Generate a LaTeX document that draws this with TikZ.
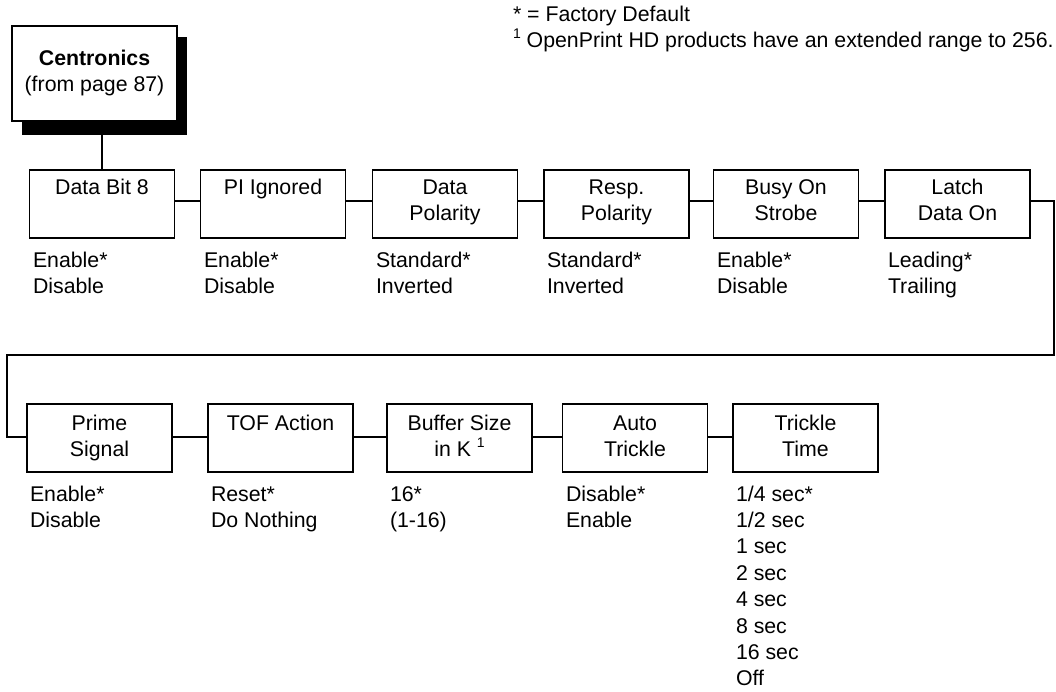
\documentclass[tikz,border=0pt]{standalone}
\usepackage{fontspec}
\setmainfont{Liberation Sans}
\newcommand\ctrlines[1]{\vtop{\baselineskip=26.6pt\lineskip=0pt\lineskiplimit=-20pt\halign{\hfil##\hfil\cr#1\crcr}}}
\newcommand\leftlines[1]{\vtop{\baselineskip=26.4pt\lineskip=0pt\lineskiplimit=-20pt\halign{##\hfil\cr#1\crcr}}}
\newcommand\supone{\raisebox{0.42em}{\fontsize{14}{14}\selectfont 1}}
\begin{document}
\begin{tikzpicture}[x=1pt,y=-1pt,
  every node/.style={font=\fontsize{21.3}{26.6}\selectfont, inner sep=0pt, outer sep=0pt},
  menubox/.style={draw=black, line width=1.6pt, fill=white, rectangle, minimum width=145pt, minimum height=68pt},
  conn/.style={draw=black, line width=1.6pt},
  ttl/.style={anchor=base},
  opts/.style={anchor=base west}]
\useasboundingbox (0,0) rectangle (1056,691);

% header notes
\node[opts] (note) at (513,21) {\leftlines{* = Factory Default\cr \supone\ OpenPrint HD products have an extended range to 256.}};

% Centronics box with shadow
\node[fill=black, rectangle, minimum width=165pt, minimum height=98pt] (shadow) at (104.5,86) {};
\node[draw=black, line width=1.6pt, fill=white, rectangle, minimum width=165pt, minimum height=95pt] (cent) at (94.5,73.5) {};
\node[ttl] (centtxt) at (94.5,65) {\ctrlines{\textbf{Centronics}\cr (from page 87)}};

% row 1
\node[menubox] (b1) at (102,204) {};
\node[menubox] (b2) at (273,204) {};
\node[menubox] (b3) at (445,204) {};
\node[menubox] (b4) at (616.5,204) {};
\node[menubox] (b5) at (786,204) {};
\node[menubox] (b6) at (957.5,204) {};

\node[ttl] (t1) at (b1 |- 0,194) {\ctrlines{Data Bit 8}};
\node[ttl] (t2) at (b2 |- 0,194) {\ctrlines{PI Ignored}};
\node[ttl] (t3) at (b3 |- 0,194) {\ctrlines{Data\cr Polarity}};
\node[ttl] (t4) at (b4 |- 0,194) {\ctrlines{Resp.\cr Polarity}};
\node[ttl] (t5) at (b5 |- 0,194) {\ctrlines{Busy On\cr Strobe}};
\node[ttl] (t6) at (b6 |- 0,194) {\ctrlines{Latch\cr Data On}};

\node[opts] (o1) at (33,267) {\leftlines{Enable*\cr Disable}};
\node[opts] (o2) at (204,267) {\leftlines{Enable*\cr Disable}};
\node[opts] (o3) at (376,267) {\leftlines{Standard*\cr Inverted}};
\node[opts] (o4) at (547,267) {\leftlines{Standard*\cr Inverted}};
\node[opts] (o5) at (717,267) {\leftlines{Enable*\cr Disable}};
\node[opts] (o6) at (888,267) {\leftlines{Leading*\cr Trailing}};

% row 2
\node[menubox] (p1) at (99.5,438) {};
\node[menubox] (p2) at (280.5,438) {};
\node[menubox] (p3) at (459.5,438) {};
\node[menubox] (p4) at (635,438) {};
\node[menubox] (p5) at (805.5,438) {};

\node[ttl] (s1) at (p1 |- 0,430) {\ctrlines{Prime\cr Signal}};
\node[ttl] (s2) at (p2 |- 0,430) {\ctrlines{TOF Action}};
\node[ttl] (s3) at (p3 |- 0,430) {\ctrlines{Buffer Size\cr in K \supone}};
\node[ttl] (s4) at (p4 |- 0,430) {\ctrlines{Auto\cr Trickle}};
\node[ttl] (s5) at (p5 |- 0,430) {\ctrlines{Trickle\cr Time}};

\node[opts] (q1) at (30,501) {\leftlines{Enable*\cr Disable}};
\node[opts] (q2) at (211,501) {\leftlines{Reset*\cr Do Nothing}};
\node[opts] (q3) at (390,501) {\leftlines{16*\cr (1-16)}};
\node[opts] (q4) at (566,501) {\leftlines{Disable*\cr Enable}};
\node[opts] (q5) at (736,501) {\leftlines{1/4 sec*\cr 1/2 sec\cr 1 sec\cr 2 sec\cr 4 sec\cr 8 sec\cr 16 sec\cr Off}};

% connectors
\draw[conn] (b1.north |- shadow.south) -- (b1.north);
\draw[conn] ([yshift=3pt]b1.east) -- ([yshift=3pt]b2.west);
\draw[conn] ([yshift=3pt]b2.east) -- ([yshift=3pt]b3.west);
\draw[conn] ([yshift=3pt]b3.east) -- ([yshift=3pt]b4.west);
\draw[conn] ([yshift=3pt]b4.east) -- ([yshift=3pt]b5.west);
\draw[conn] ([yshift=3pt]b5.east) -- ([yshift=3pt]b6.west);
\coordinate (loopR) at (1054,355);
\coordinate (loopL) at (7,355);
\draw[conn] ([yshift=3pt]b6.east) -| (loopR) -- (loopL) |- ([yshift=1pt]p1.west);
\draw[conn] ([yshift=1pt]p1.east) -- ([yshift=1pt]p2.west);
\draw[conn] ([yshift=1pt]p2.east) -- ([yshift=1pt]p3.west);
\draw[conn] ([yshift=1pt]p3.east) -- ([yshift=1pt]p4.west);
\draw[conn] ([yshift=1pt]p4.east) -- ([yshift=1pt]p5.west);
\end{tikzpicture}
\end{document}
